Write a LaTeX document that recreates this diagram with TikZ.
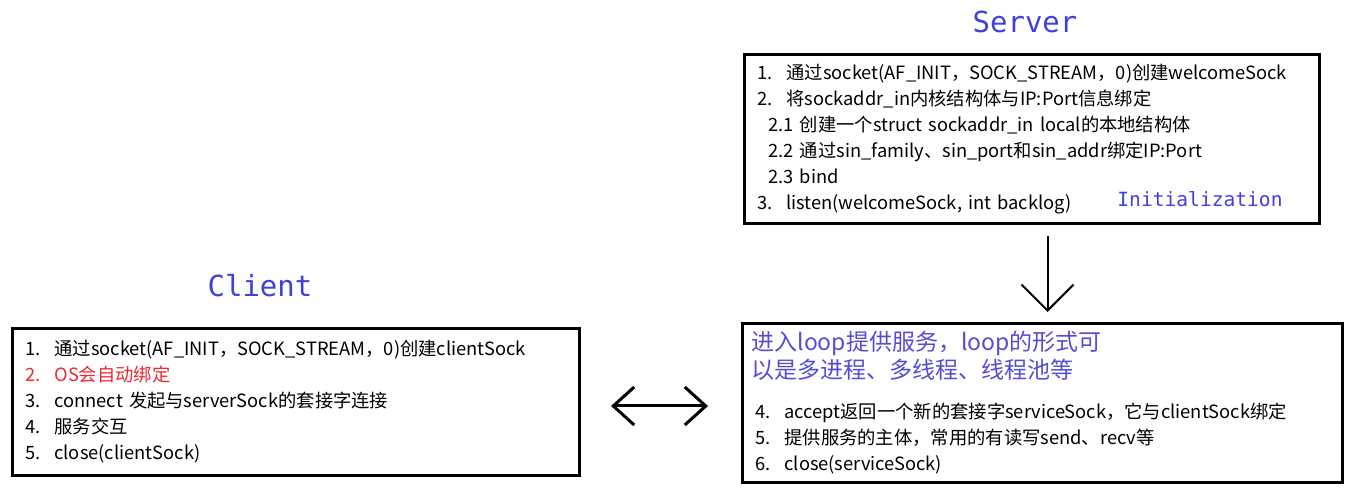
\documentclass[tikz,border=0pt]{standalone}
\usepackage{fontspec}
\setmainfont{Noto Sans CJK SC}
\newfontfamily\monofont{DejaVu Sans Mono}
\usetikzlibrary{arrows.meta}

\definecolor{titleblue}{RGB}{64,64,224}
\definecolor{noteblue}{RGB}{84,76,216}
\definecolor{osred}{RGB}{236,40,48}
\newcommand{\gp}{\hspace{0.75em}}

\begin{document}
\begin{tikzpicture}[
		x=0.5pt, y=-0.5pt,
		every node/.style={inner sep=0pt},
		box/.style={draw, line width=1.5pt, anchor=north west, align=left,
			inner xsep=6.5pt, font=\fontsize{9.15}{13}\selectfont},
		title/.style={text=titleblue, font=\monofont\fontsize{14.5}{17}\selectfont},
		oneway/.style={line width=1pt, -{Straight Barb[length=13pt,width=26pt]}},
		bothway/.style={line width=1.5pt,
			{Straight Barb[length=10.5pt,width=19pt]}-{Straight Barb[length=10.5pt,width=19pt]}}
		]
		\useasboundingbox (0,0) rectangle (1356,491);

		% server side
		\node[title] (srvtitle) at (1025,22) {Server};
		\node[box, minimum width=287.5pt, minimum height=84.5pt, text width=274.5pt]
			(server) at (743,53) {
			1.\gp 通过socket(AF\_INIT，SOCK\_STREAM，0)创建welcomeSock\\
			2.\gp 将sockaddr\_in内核结构体与IP:Port信息绑定\\
			\hspace*{0.6em}2.1 创建一个struct sockaddr\_in local的本地结构体\\
			\hspace*{0.6em}2.2 通过sin\_family、sin\_port和sin\_addr绑定IP:Port\\
			\hspace*{0.6em}2.3 bind\\
			3.\gp listen(welcomeSock, int backlog)};
		\node[text=titleblue, font=\monofont\fontsize{9.8}{12}\selectfont]
			(init) at (1200,199) {Initialization};

		\node[box, minimum width=299.5pt, minimum height=79.5pt, text width=287pt]
			(loop) at (741,322) {
			{\color{noteblue}\fontsize{11.5}{14}\selectfont\hspace*{-2pt}进入loop提供服务，loop的形式可\\
			\hspace*{-2pt}以是多进程、多线程、线程池等\\[7pt]}
			4.\gp accept返回一个新的套接字serviceSock，它与clientSock绑定\\
			5.\gp 提供服务的主体，常用的有读写send、recv等\\
			6.\gp close(serviceSock)};

		% client side
		\node[title] (clititle) at (260,286) {Client};
		\node[box, minimum width=283.5pt, minimum height=73.5pt, text width=270.5pt]
			(client) at (11,327) {
			1.\gp 通过socket(AF\_INIT，SOCK\_STREAM，0)创建clientSock\\
			{\color{osred}2.\gp OS会自动绑定}\\
			3.\gp connect 发起与serverSock的套接字连接\\
			4.\gp 服务交互\\
			5.\gp close(clientSock)};

		\draw[oneway, shorten <=5.5pt, shorten >=5pt]
			([xshift=7.75pt]server.south) -- ([xshift=7.75pt]server.south |- loop.north);
		\draw[bothway, shorten <=15pt, shorten >=16.5pt]
			([yshift=-2pt]client.east) -- ([yshift=-2pt]client.east -| loop.west);
	\end{tikzpicture}
\end{document}
